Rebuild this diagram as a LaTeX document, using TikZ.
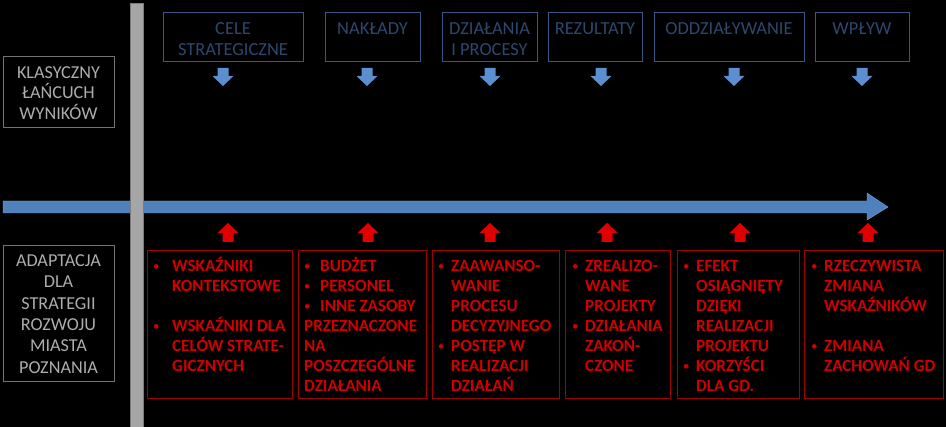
\documentclass[tikz,border=0pt]{standalone}
\usepackage{fontspec}
\setmainfont{Carlito}
\definecolor{topBorder}{HTML}{385787}
\definecolor{topText}{HTML}{2D486E}
\definecolor{blueArr}{HTML}{5B8FD0}
\definecolor{bigArr}{HTML}{4F81BD}
\definecolor{grayText}{HTML}{ADADAD}
\definecolor{grayBorder}{HTML}{737373}
\definecolor{barGray}{HTML}{A6A6A6}
\definecolor{redText}{HTML}{D00000}
\definecolor{redBorder}{HTML}{A00000}
\definecolor{redArr}{HTML}{E00000}
\newcommand\bul{\raisebox{0.8pt}{\fontsize{13}{13}\selectfont\mdseries •}}
\newcommand\bl[1]{\makebox[13pt][l]{\bul}#1}
\newcommand\ct[1]{\hspace*{13pt}#1}
\newcommand\fst{\rule{0pt}{17pt}}
\newcommand\tst{\rule{0pt}{18pt}}
\newcommand\bluedown[1]{\fill[blueArr] (#1-5.5,68) -- (#1+5.5,68) -- (#1+5.5,76) -- (#1+10.5,76) -- (#1,86) -- (#1-10.5,76) -- (#1-5.5,76) -- cycle;}
\newcommand\redup[1]{\fill[redArr] (#1-5.5,242) -- (#1+5.5,242) -- (#1+5.5,233) -- (#1+10.5,233) -- (#1,223) -- (#1-10.5,233) -- (#1-5.5,233) -- cycle;}
\begin{document}
\begin{tikzpicture}[x=1pt,y=-1pt,
  topbox/.style={draw=topBorder,line width=1pt,inner sep=0pt,minimum height=49pt},
  toptext/.style={anchor=north,inner sep=0pt,align=center,text=topText,font=\fontsize{18.4}{21}\selectfont},
  leftbox/.style={draw=grayBorder,line width=1pt,inner sep=0pt,minimum width=111pt},
  lefttext/.style={inner sep=0pt,align=center,text=grayText},
  redbox/.style={draw=redBorder,line width=1pt,inner sep=0pt,minimum height=148pt},
  redtext/.style={anchor=north west,inner sep=0pt,align=left,text=redText,font=\fontsize{17.1}{20}\selectfont\bfseries}]
\useasboundingbox (0,0) rectangle (946,427);
\fill[black] (0,0) rectangle (946,427);
% big arrow
\fill[bigArr] (3,201) -- (867,201) -- (867,193) -- (888,207) -- (867,220) -- (867,213) -- (3,213) -- cycle;
\draw[bigArr!70!white,line width=0.4pt] (3,201) -- (867,201) -- (867,193) -- (888,207) -- (867,220) -- (867,213) -- (3,213) -- cycle;
% gray bar
\fill[barGray] (130,3) rectangle (143,427);
\draw[barGray!75!black,line width=0.6pt] (130,3) rectangle (143,427);
% left boxes
\node[leftbox,minimum height=71pt] (klas) at (58.5,92.5) {};
\node[lefttext,font=\fontsize{18.2}{20.5}\selectfont] (klast) at (58.5,93) {KLASYCZNY\\ŁAŃCUCH\\WYNIKÓW};
\node[leftbox,minimum height=136pt] (adapt) at (58.5,314) {};
\node[lefttext,font=\fontsize{18.2}{21.4}\selectfont] (adaptt) at (58.5,314) {ADAPTACJA\\DLA\\STRATEGII\\ROZWOJU\\MIASTA\\POZNANIA};
% top boxes
\node[topbox,minimum width=140pt] (cele) at (233,37.5) {};
\node[toptext] (celet) at (233,16) {\tst CELE\\STRATEGICZNE};
\node[topbox,minimum width=95pt] (nakl) at (372.5,37.5) {};
\node[toptext] (naklt) at (372.5,16) {\tst NAKŁADY};
\node[topbox,minimum width=95pt] (dzial) at (489.5,37.5) {};
\node[toptext] (dzialt) at (489.5,16) {\tst DZIAŁANIA\\I PROCESY};
\node[topbox,minimum width=94pt] (rez) at (595,37.5) {};
\node[toptext] (rezt) at (595,16) {\tst REZULTATY};
\node[topbox,minimum width=150pt] (oddz) at (729,37.5) {};
\node[toptext] (oddzt) at (729,16) {\tst ODDZIAŁYWANIE};
\node[topbox,minimum width=94pt] (wplyw) at (862,37.5) {};
\node[toptext] (wplywt) at (862,16) {\tst WPŁYW};
% blue arrows
\bluedown{223}\bluedown{367}\bluedown{490}\bluedown{601}\bluedown{734}\bluedown{862}
% red arrows
\redup{228}\redup{368}\redup{490}\redup{607}\redup{740}\redup{868}
% red boxes
\node[redbox,minimum width=145pt] (r1) at (219.5,325) {};
\node[redtext] (r1t) at (153,254.5) {\fst\makebox[19pt][l]{\bul}WSKAŹNIKI\\\hspace*{19pt}KONTEKSTOWE\\~\\\makebox[19pt][l]{\bul}WSKAŹNIKI DLA\\\hspace*{19pt}CELÓW STRATE-\\\hspace*{19pt}GICZNYCH};
\node[redbox,minimum width=128pt] (r2) at (362,325) {};
\node[redtext] (r2t) at (304,254.5) {\fst\makebox[16pt][l]{\bul}BUDŻET\\\makebox[16pt][l]{\bul}PERSONEL\\\makebox[16pt][l]{\bul}INNE ZASOBY\\PRZEZNACZONE\\NA\\POSZCZEGÓLNE\\DZIAŁANIA};
\node[redbox,minimum width=127pt] (r3) at (495.5,325) {};
\node[redtext] (r3t) at (438,254.5) {\fst\bl{ZAAWANSO-}\\\ct{WANIE}\\\ct{PROCESU}\\\ct{DECYZYJNEGO}\\\bl{POSTĘP W}\\\ct{REALIZACJI}\\\ct{DZIAŁAŃ}};
\node[redbox,minimum width=105pt] (r4) at (617.5,325) {};
\node[redtext] (r4t) at (572,254.5) {\fst\bl{ZREALIZO-}\\\ct{WANE}\\\ct{PROJEKTY}\\\bl{DZIAŁANIA}\\\ct{ZAKOŃ-}\\\ct{CZONE}};
\node[redbox,minimum width=122pt] (r5) at (738,325) {};
\node[redtext] (r5t) at (683,254.5) {\fst\bl{EFEKT}\\\ct{OSIĄGNIĘTY}\\\ct{DZIĘKI}\\\ct{REALIZACJI}\\\ct{PROJEKTU}\\\bl{KORZYŚCI}\\\ct{DLA GD.}};
\node[redbox,minimum width=139pt] (r6) at (873.5,325) {};
\node[redtext] (r6t) at (811,254.5) {\fst\bl{RZECZYWISTA}\\\ct{ZMIANA}\\\ct{WSKAŹNIKÓW}\\~\\\bl{ZMIANA}\\\ct{ZACHOWAŃ GD}};
\end{tikzpicture}
\end{document}
